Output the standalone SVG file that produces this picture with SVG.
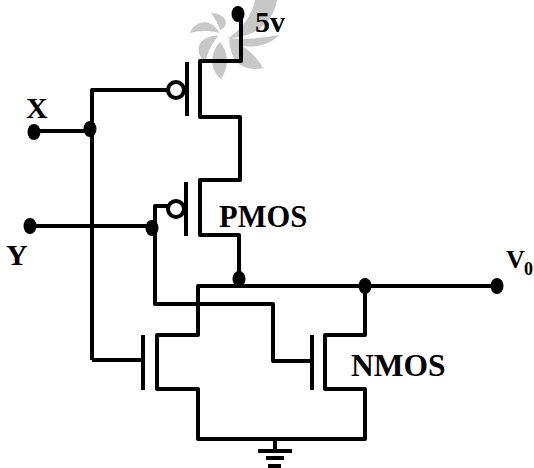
<svg xmlns="http://www.w3.org/2000/svg" width="534" height="468" viewBox="0 0 534 468">
<style>
.w{fill:none;stroke:#000;stroke-width:4;stroke-linejoin:round}
.g{fill:none;stroke:#000;stroke-width:4}
.b{fill:#fff;stroke:#000;stroke-width:4}
.d{fill:#000}
.p{fill:#c8c8c8}
text{font-family:"Liberation Serif",serif;font-weight:bold;fill:#000}
</style>
<rect width="534" height="468" fill="#fff"/>
<g id="watermark">
<path class="p" d="M277 0C274 20 258 37 229 38C238 31 245 24 249 16C252 11 254 5 255 0Z"/>
<path class="p" d="M228 38C244 40 262 38 279 35C270 45 254 48 243 46C237 45 232 42 228 38Z"/>
<path class="p" d="M229 40C242 43 256 55 263 68C251 71 240 67 234 59C231 53 230 46 229 40Z"/>
<path class="p" d="M220 42C228 52 230 65 221 79C211 71 208 55 220 42Z"/>
<path class="p" d="M218 36C212 44 207 52 206 62C198 57 196 47 202 41C207 37 213 35 218 36Z"/>
<path class="p" d="M219 33C208 30 198 31 190 33C194 23 204 20 211 24C215 26 218 30 219 33Z"/>
<path class="p" d="M220 30C218 24 215 18 211 13C220 13 226 18 226 23C226 26 223 29 220 30Z"/>
</g>
<g id="connectors">
<path class="w" d="M241 14V61H200V117H240V180H200V235H239V285"/>
<path class="w" d="M92 360V90H168"/>
<path class="w" d="M92 360H143"/>
<path class="w" d="M34 131H90"/>
<path class="w" d="M30 226H152"/>
<path class="w" d="M168 206H155V304H273V361H312"/>
<path class="w" d="M497 286H198V335H157V389H198V439H365V389H325V335H365V286"/>
<path class="w" d="M275 439V451"/>
</g>
<g id="pmos-top"><path class="g" d="M187 62V116"/><circle class="b" cx="176" cy="90" r="8"/></g>
<g id="pmos-bottom"><path class="g" d="M186 182V236"/><circle class="b" cx="176" cy="209" r="8"/><text x="219" y="227" font-size="30.5">PMOS</text></g>
<g id="nmos-left"><path class="g" d="M143 335V390"/></g>
<g id="nmos-right"><path class="g" d="M312 335V390"/><text x="351" y="376" font-size="31.5">NMOS</text></g>
<g id="ground"><path class="g" d="M258 451H292M266 458H284M268 466H281"/></g>
<g id="dots">
<ellipse class="d" cx="238" cy="14" rx="6.5" ry="8"/>
<ellipse class="d" cx="34" cy="132" rx="6.5" ry="8"/>
<ellipse class="d" cx="90" cy="129" rx="6.5" ry="8"/>
<ellipse class="d" cx="30" cy="226" rx="6.5" ry="8"/>
<ellipse class="d" cx="152" cy="228" rx="6.5" ry="8"/>
<ellipse class="d" cx="239" cy="279" rx="6.5" ry="8"/>
<ellipse class="d" cx="365" cy="286" rx="6.5" ry="8"/>
<ellipse class="d" cx="497" cy="286" rx="6.5" ry="8"/>
</g>
<g id="labels">
<text x="255" y="32" font-size="30">5v</text>
<text x="26" y="118" font-size="30">X</text>
<text x="6" y="265" font-size="30">Y</text>
<text x="506" y="268" font-size="26">V</text>
<text x="524" y="275" font-size="18">0</text>
</g>
</svg>
